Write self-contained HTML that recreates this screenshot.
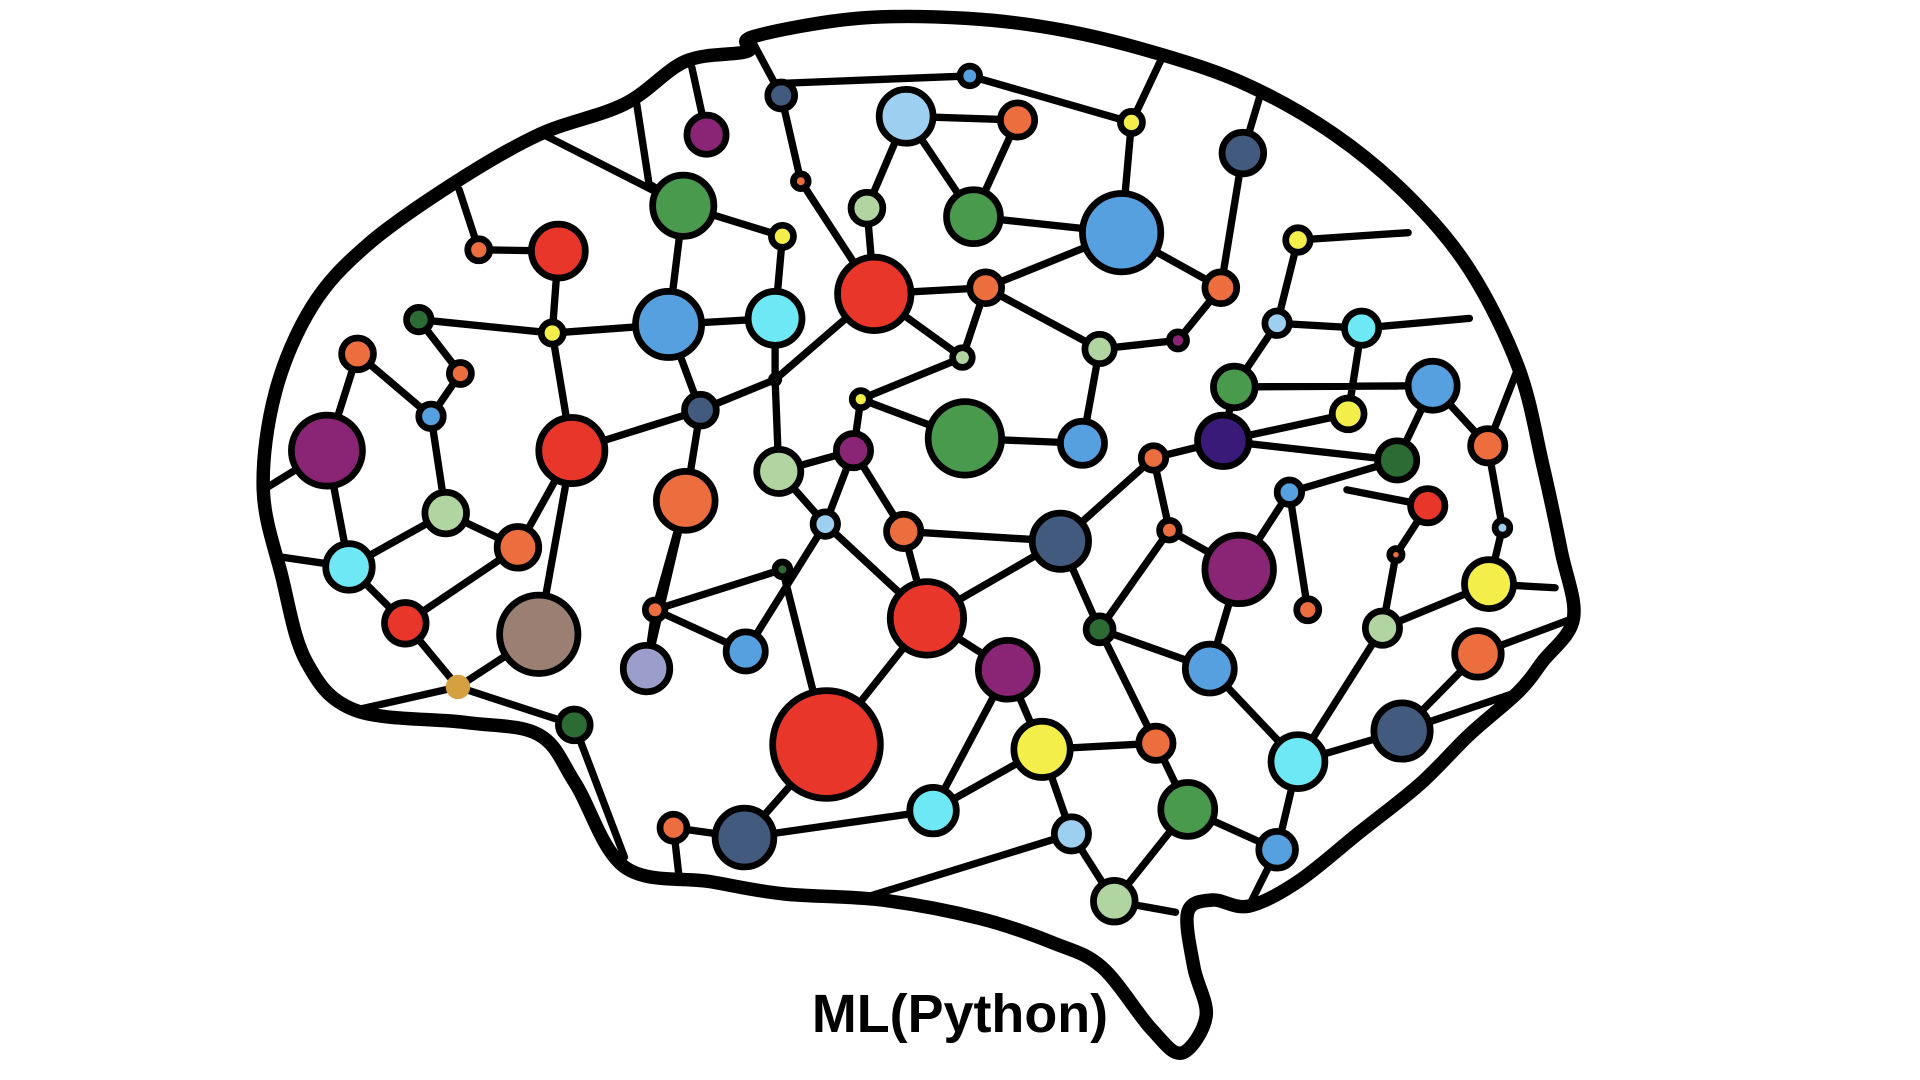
<!DOCTYPE html>
<html><head><meta charset="utf-8"><style>html,body{margin:0;padding:0;background:#fff;width:1920px;height:1080px;overflow:hidden}</style></head>
<body>
<svg width="1920" height="1080" viewBox="0 0 1568 882" xmlns="http://www.w3.org/2000/svg">
<g stroke="#000" stroke-width="6" fill="none" stroke-linecap="round" stroke-linejoin="round">
<path d="M440,108 L558,168 M520,85 L530,150 L558,168 M565,55 L577,110 M615,35 L638,78 L654,148 L714,240 M638,78 L640,68 L792,62 L924,100 L950,45 M924,100 L916,190 M740,95 L831,98 L795,177 M740,95 L708,170 L714,240 M740,95 L795,177 M916,190 L795,177 M916,190 L997,235 M1015,125 L1030,75 M1015,125 L997,235 L962,278 M1060,196 L1043,264 M1060,196 L1150,190 M805,235 L916,190 M805,235 L714,240 M805,235 L786,292 L714,240 M786,292 L703,326 L697,368 M898,285 L805,235 M898,285 L962,278 M898,285 L884,362 L788,358 L703,326 M1043,264 L1008,316 M1112,268 L1101,338 M1112,268 L1043,264 M1112,268 L1200,260 M456,205 L391,204 L375,155 M456,205 L451,272 L342,261 L376,305 L352,340 L292,289 L267,368 L215,400 M451,272 L546,265 L633,260 M546,265 L558,168 L639,193 L633,260 M451,272 L467,368 L572,335 L633,310 L714,240 M572,335 L546,265 M633,310 L633,260 M633,310 L636,385 M352,340 L364,419 L285,463 L230,455 M364,419 L423,447 L467,368 M423,447 L331,509 L285,463 L267,368 M331,509 L374,561 L440,518 L467,368 M374,561 L290,580 M374,561 L469,592 L510,700 M697,368 L636,385 M697,368 L738,434 L866,442 L942,374 L999,360 L1101,338 M697,368 L674,428 L636,385 M560,409 L572,335 M560,409 L535,498 L609,532 M560,409 L528,546 L535,498 L639,465 L675,608 M609,532 L674,428 L757,505 L738,434 M1008,316 L999,360 M1008,316 L1170,315 L1215,364 L1240,300 M1141,376 L1170,315 M1141,376 L1053,402 L1068,498 M1053,402 L1012,465 M955,433 L1012,465 M955,433 L898,514 L866,442 M955,433 L942,374 M898,514 L988,546 L1012,465 M999,360 L1141,376 M1215,364 L1227,431 L1216,477 L1270,480 M1166,413 L1140,453 L1129,513 L1060,622 L1145,597 L1207,534 L1285,505 M1166,413 L1100,400 M1145,597 L1240,565 M1129,513 L1216,477 M1060,622 L988,546 M1060,622 L1043,694 L970,661 L944,607 L851,612 L823,547 L757,505 L675,608 L608,684 M851,612 L762,662 L608,684 L550,676 L555,720 M762,662 L823,547 M875,681 L851,612 M875,681 L910,736 L970,661 M910,736 L960,745 M875,681 L700,735 M944,607 L898,514 M1043,694 L1020,740 M757,505 L866,442"/>
</g>
<path id="outline" d="M510,708 L470,640 L440,600 L380,590 L290,580 L250,540 L230,470 L215,400 L225,320 L255,250 L300,200 L370,150 L440,110 L510,85 L560,50 L610,42 L615,30 L700,15 L790,15 L870,25 L950,45 L1020,70 L1090,110 L1150,160 L1200,220 L1240,300 L1260,380 L1275,450 L1285,505 L1260,540 L1240,565 L1200,600 L1160,640 L1110,680 L1060,720 L1020,740 L990,735 L970,745 L975,790 L985,830 L965,860 L940,840 L900,790 L860,770 L800,750 L720,735 L640,730 L580,720 Z" fill="none" stroke="#000" stroke-width="11" stroke-linejoin="round"/>
<g stroke="#000" stroke-width="5.5">
<circle cx="577" cy="110" r="16" fill="#8a2475"/><circle cx="638" cy="78" r="11" fill="#425a7e"/><circle cx="740" cy="95" r="22" fill="#9dcff0"/><circle cx="792" cy="62" r="8" fill="#56a0e0"/><circle cx="831" cy="98" r="14" fill="#ec6e3e"/><circle cx="924" cy="100" r="9" fill="#f3ee4a"/><circle cx="1015" cy="125" r="17" fill="#425a7e"/><circle cx="558" cy="168" r="25" fill="#4a9a4e"/><circle cx="654" cy="148" r="6" fill="#ec6e3e"/><circle cx="708" cy="170" r="13" fill="#b0d5a0"/><circle cx="795" cy="177" r="22" fill="#4a9a4e"/><circle cx="916" cy="190" r="32" fill="#56a0e0"/><circle cx="1060" cy="196" r="10" fill="#f3ee4a"/><circle cx="391" cy="204" r="9" fill="#ec6e3e"/><circle cx="456" cy="205" r="22" fill="#e8372a"/><circle cx="639" cy="193" r="9" fill="#f3ee4a"/><circle cx="714" cy="240" r="30" fill="#e8372a"/><circle cx="805" cy="235" r="13" fill="#ec6e3e"/><circle cx="997" cy="235" r="13" fill="#ec6e3e"/><circle cx="342" cy="261" r="10" fill="#2d6b35"/><circle cx="292" cy="289" r="13" fill="#ec6e3e"/><circle cx="451" cy="272" r="9" fill="#f3ee4a"/><circle cx="546" cy="265" r="27" fill="#56a0e0"/><circle cx="633" cy="260" r="22" fill="#6ee8f5"/><circle cx="786" cy="292" r="8" fill="#b0d5a0"/><circle cx="898" cy="285" r="12" fill="#b0d5a0"/><circle cx="962" cy="278" r="7" fill="#8a2475"/><circle cx="1043" cy="264" r="10" fill="#9dcff0"/><circle cx="1112" cy="268" r="14" fill="#6ee8f5"/><circle cx="376" cy="305" r="9" fill="#ec6e3e"/><circle cx="352" cy="340" r="10" fill="#56a0e0"/><circle cx="572" cy="335" r="13" fill="#425a7e"/><circle cx="633" cy="310" r="3" fill="#f3ee4a"/><circle cx="703" cy="326" r="7" fill="#f3ee4a"/><circle cx="1008" cy="316" r="17" fill="#4a9a4e"/><circle cx="1101" cy="338" r="13" fill="#f3ee4a"/><circle cx="1170" cy="315" r="20" fill="#56a0e0"/><circle cx="267" cy="368" r="29" fill="#8a2475"/><circle cx="467" cy="368" r="27" fill="#e8372a"/><circle cx="697" cy="368" r="14" fill="#8a2475"/><circle cx="788" cy="358" r="30" fill="#4a9a4e"/><circle cx="884" cy="362" r="18" fill="#56a0e0"/><circle cx="999" cy="360" r="21" fill="#3a1a78"/><circle cx="942" cy="374" r="10" fill="#ec6e3e"/><circle cx="1141" cy="376" r="16" fill="#2d6b35"/><circle cx="1215" cy="364" r="14" fill="#ec6e3e"/><circle cx="636" cy="385" r="18" fill="#b0d5a0"/><circle cx="560" cy="409" r="24" fill="#ec6e3e"/><circle cx="364" cy="419" r="17" fill="#b0d5a0"/><circle cx="1053" cy="402" r="10" fill="#56a0e0"/><circle cx="1166" cy="413" r="14" fill="#e8372a"/><circle cx="674" cy="428" r="10" fill="#9dcff0"/><circle cx="738" cy="434" r="14" fill="#ec6e3e"/><circle cx="866" cy="442" r="23" fill="#425a7e"/><circle cx="955" cy="433" r="8" fill="#ec6e3e"/><circle cx="1227" cy="431" r="6" fill="#9dcff0"/><circle cx="423" cy="447" r="17" fill="#ec6e3e"/><circle cx="285" cy="463" r="19" fill="#6ee8f5"/><circle cx="1012" cy="465" r="28" fill="#8a2475"/><circle cx="1140" cy="453" r="5" fill="#ec6e3e"/><circle cx="639" cy="465" r="6" fill="#2d6b35"/><circle cx="1216" cy="477" r="20" fill="#f3ee4a"/><circle cx="331" cy="509" r="17" fill="#e8372a"/><circle cx="440" cy="518" r="32" fill="#9a7f72"/><circle cx="535" cy="498" r="8" fill="#ec6e3e"/><circle cx="757" cy="505" r="30" fill="#e8372a"/><circle cx="898" cy="514" r="11" fill="#2d6b35"/><circle cx="1068" cy="498" r="9" fill="#ec6e3e"/><circle cx="1129" cy="513" r="14" fill="#b0d5a0"/><circle cx="609" cy="532" r="16" fill="#56a0e0"/><circle cx="528" cy="546" r="19" fill="#9b9ecb"/><circle cx="823" cy="547" r="24" fill="#8a2475"/><circle cx="988" cy="546" r="20" fill="#56a0e0"/><circle cx="1207" cy="534" r="19" fill="#ec6e3e"/><circle cx="374" cy="561" r="10" fill="#d4a040" stroke="none"/><circle cx="469" cy="592" r="13" fill="#2d6b35"/><circle cx="675" cy="608" r="44" fill="#e8372a"/><circle cx="851" cy="612" r="23" fill="#f3ee4a"/><circle cx="944" cy="607" r="14" fill="#ec6e3e"/><circle cx="1145" cy="597" r="23" fill="#425a7e"/><circle cx="1060" cy="622" r="22" fill="#6ee8f5"/><circle cx="762" cy="662" r="19" fill="#6ee8f5"/><circle cx="970" cy="661" r="22" fill="#4a9a4e"/><circle cx="550" cy="676" r="11" fill="#ec6e3e"/><circle cx="608" cy="684" r="24" fill="#425a7e"/><circle cx="875" cy="681" r="14" fill="#9dcff0"/><circle cx="1043" cy="694" r="15" fill="#56a0e0"/><circle cx="910" cy="736" r="17" fill="#b0d5a0"/>
</g>
<text x="784" y="843" text-anchor="middle" font-family="Liberation Sans, sans-serif" font-weight="bold" font-size="44" fill="#000">ML(Python)</text>
</svg>
<script>
(function(){
var p=document.getElementById('outline');
var pts=p.getAttribute('d').replace(/[MLZ]/g,' ').trim().split(/\s+/).map(function(s){var a=s.split(',');return [+a[0],+a[1]];});
var n=pts.length,d='M'+pts[0][0]+','+pts[0][1];
for(var i=0;i<n;i++){
var p0=pts[(i-1+n)%n],p1=pts[i],p2=pts[(i+1)%n],p3=pts[(i+2)%n];
var t=0.5/3;
d+=' C'+(p1[0]+(p2[0]-p0[0])*t)+','+(p1[1]+(p2[1]-p0[1])*t)+' '+(p2[0]-(p3[0]-p1[0])*t)+','+(p2[1]-(p3[1]-p1[1])*t)+' '+p2[0]+','+p2[1];
}
p.setAttribute('d',d+' Z');
})();
</script>
</body></html>
